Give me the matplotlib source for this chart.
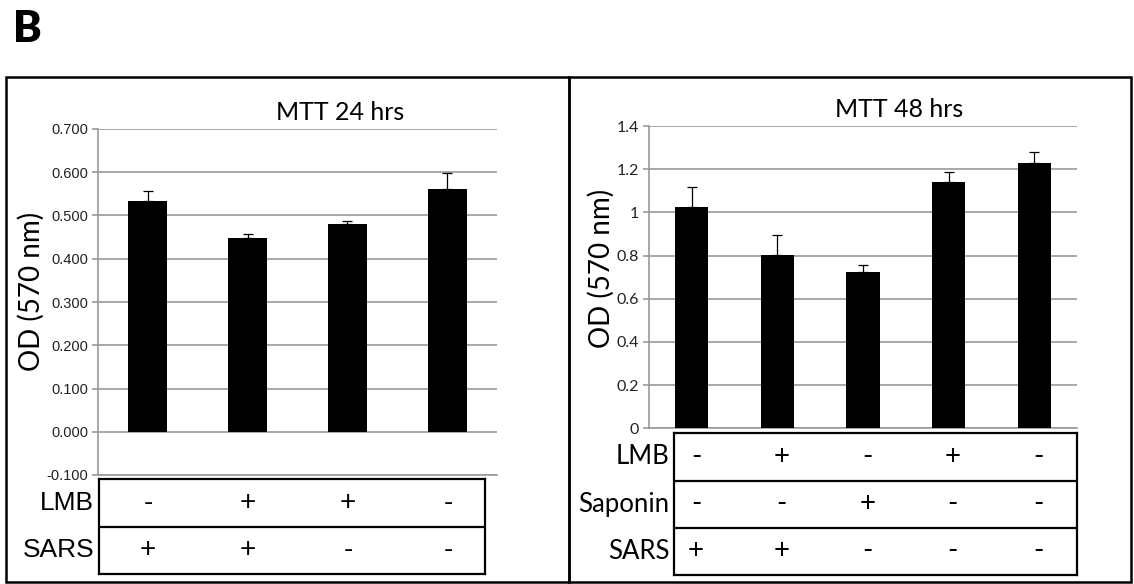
import matplotlib
matplotlib.use("Agg")
import matplotlib.pyplot as plt
from matplotlib.patches import Rectangle

# ---------------- data ----------------
p1_title = "MTT 24 hrs"
p1_values = [0.534, 0.449, 0.481, 0.562]
p1_err = [0.023, 0.008, 0.006, 0.037]
p1_yticks = [-0.1, 0.0, 0.1, 0.2, 0.3, 0.4, 0.5, 0.6, 0.7]
p1_yticklabels = ["-0.100", "0.000", "0.100", "0.200", "0.300", "0.400", "0.500", "0.600", "0.700"]
p1_rows = ["LMB", "SARS"]
p1_signs = [["-", "+", "+", "-"],
            ["+", "+", "-", "-"]]

p2_title = "MTT 48 hrs"
p2_values = [1.026, 0.801, 0.725, 1.139, 1.227]
p2_err = [0.093, 0.092, 0.031, 0.049, 0.051]
p2_yticks = [0, 0.2, 0.4, 0.6, 0.8, 1.0, 1.2, 1.4]
p2_yticklabels = ["0", "0.2", "0.4", "0.6", "0.8", "1", "1.2", "1.4"]
p2_rows = ["LMB", "Saponin", "SARS"]
p2_signs = [["-", "+", "-", "+", "-"],
            ["-", "-", "+", "-", "-"],
            ["+", "+", "-", "-", "-"]]

ylabel = "OD (570 nm)"
panel_letter = "B"

# ---------------- figure ----------------
W, H = 1134, 584
fig = plt.figure(figsize=(W / 100, H / 100), dpi=100)
fig.patch.set_facecolor("white")

def fx(px):
    return px / W

def fy(py):
    return 1 - py / H

GRID = "#9a9a9a"
CAL = ["Lato", "DejaVu Sans"]
ARI = ["Liberation Sans", "DejaVu Sans"]


def make_bar_axes(rect, values, err, yticks, yticklabels, tickfont, tickfs):
    ax = fig.add_axes(rect)
    x = list(range(len(values)))
    ax.bar(x, values, width=0.39, color="black", zorder=3)
    ax.errorbar(x, values, yerr=[[0] * len(values), err], fmt="none",
                ecolor="black", elinewidth=0.9, capsize=3.5, capthick=0.9, zorder=4)
    ax.set_xlim(-0.5, len(values) - 0.5)
    ax.set_ylim(yticks[0], yticks[-1])
    ax.set_yticks(yticks)
    ax.set_yticklabels(yticklabels, fontfamily=tickfont, fontsize=tickfs, color="#222222")
    ax.set_xticks([])
    ax.yaxis.grid(True, color=GRID, linewidth=1.2, zorder=0)
    ax.set_axisbelow(True)
    for s in ["top", "right"]:
        ax.spines[s].set_visible(False)
    ax.spines["left"].set_color(GRID)
    ax.spines["left"].set_linewidth(1.2)
    ax.spines["bottom"].set_color(GRID)
    ax.spines["bottom"].set_linewidth(1.2)
    ax.tick_params(axis="y", length=4, width=1.2, color=GRID, pad=3)
    return ax


def make_table(rect, xlim, rows, signs, font, fs, label_fs, offset=0.0):
    tax = fig.add_axes(rect)
    n = len(rows)
    tax.set_xlim(*xlim)
    tax.set_ylim(n, 0)
    tax.set_xticks([])
    tax.set_yticks([])
    for s in tax.spines.values():
        s.set_linewidth(1.6)
        s.set_color("black")
    for r in range(1, n):
        tax.axhline(r, color="black", linewidth=1.6)
    for r, (lab, row) in enumerate(zip(rows, signs)):
        tax.text(-0.012, 1 - (r + 0.5) / n, lab, transform=tax.transAxes,
                 ha="right", va="center", fontfamily=font, fontsize=label_fs, color="black")
        for c, sg in enumerate(row):
            tax.text(c + offset, r + 0.5, sg, ha="center", va="center",
                     fontfamily=font, fontsize=fs, color="black")
    return tax


# ----- left panel -----
ax1 = make_bar_axes([fx(98), fy(475), fx(497) - fx(98), fy(129) - fy(475)],
                    p1_values, p1_err, p1_yticks, p1_yticklabels, ARI, 10.5)
fig.text(fx(340), fy(120), p1_title, ha="center", va="baseline",
         fontfamily=CAL, fontsize=18)
fig.text(fx(31), fy(291), ylabel, ha="center", va="center", rotation=90,
         fontfamily=CAL, fontsize=20)
make_table([fx(99), fy(574), fx(485) - fx(99), fy(479) - fy(574)],
           ((99 - 148) / 100, (485 - 148) / 100), p1_rows, p1_signs, ARI, 20, 19)

# ----- right panel -----
ax2 = make_bar_axes([fx(649), fy(428.3), fx(1077) - fx(649), fy(126) - fy(428.3)],
                    p2_values, p2_err, p2_yticks, p2_yticklabels, CAL, 11.5)
fig.text(fx(899), fy(117), p2_title, ha="center", va="baseline",
         fontfamily=CAL, fontsize=18)
fig.text(fx(601), fy(268), ylabel, ha="center", va="center", rotation=90,
         fontfamily=CAL, fontsize=20)
u = 85.6
make_table([fx(674), fy(575), fx(1077) - fx(674), fy(433.3) - fy(575)],
           ((674 - 691.8) / u, (1077 - 691.8) / u), p2_rows, p2_signs, CAL, 20, 18.5,
           offset=0.05)

# ----- panel frames -----
for x0, x1 in [(6, 569), (569, 1131)]:
    fig.add_artist(Rectangle((fx(x0), fy(582)), fx(x1) - fx(x0), fy(77) - fy(582),
                             transform=fig.transFigure, fill=False,
                             edgecolor="black", linewidth=1.8))

fig.text(fx(13), fy(42), panel_letter, ha="left", va="baseline",
         fontfamily=CAL, fontweight="heavy", fontsize=31)

fig.savefig("out.png", dpi=100)
